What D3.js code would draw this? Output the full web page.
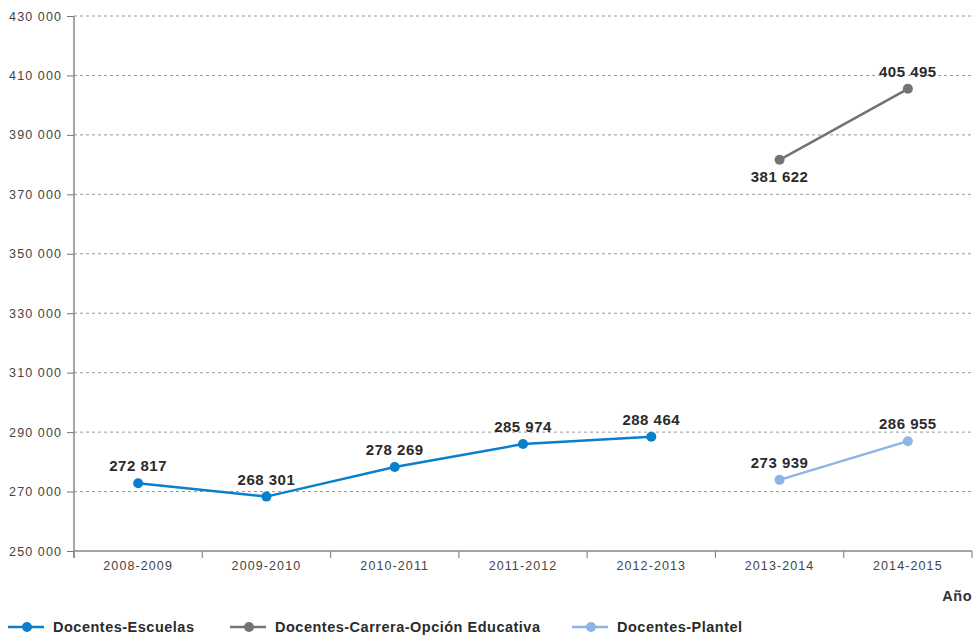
<!DOCTYPE html>
<html><head><meta charset="utf-8">
<script src="https://cdn.jsdelivr.net/npm/d3@7"></script>
<style>body{margin:0;background:#fff;font-family:"Liberation Sans",Arial,sans-serif}</style>
</head><body><svg id="c" width="975" height="638"></svg>
<script>
const years = ["2008-2009","2009-2010","2010-2011","2011-2012","2012-2013","2013-2014","2014-2015"];
const escuelas = [272817, 268301, 278269, 285974, 288464, null, null];
const carrera = [null, null, null, null, null, 381622, 405495];
const plantel = [null, null, null, null, null, 273939, 286955];
const seriesNames = ["Docentes-Escuelas","Docentes-Carrera-Opción Educativa","Docentes-Plantel"];
const yTicks = [250000,270000,290000,310000,330000,350000,370000,390000,410000,430000];

const colors = ["#0a7fcb","#737373","#8db4e5"];
const labelPos = [["up","up","up","up","up",null,null],[null,null,null,null,null,"down","up"],[null,null,null,null,null,"up","up"]];
const svg = d3.select("#c");
const L = 74, R = 972, T = 16, B = 551;
const x = d3.scaleBand().domain(years).range([L, R]);
const y = d3.scaleLinear().domain([250000, 430000]).range([B, T]);
const fmt = v => d3.format(",")(v).replace(/,/g, " ");

// grid
svg.append("g").selectAll("line").data(yTicks.slice(1)).join("line")
  .attr("x1", L).attr("x2", R).attr("y1", d => y(d)).attr("y2", d => y(d))
  .attr("stroke", "#999").attr("stroke-dasharray", "3,3").attr("stroke-width", 1);

// y axis
const ya = svg.append("g").attr("transform", `translate(${L},0)`)
  .call(d3.axisLeft(y).tickValues(yTicks).tickFormat(fmt).tickSize(7).tickPadding(5));
ya.select(".domain").remove();
ya.selectAll(".tick line").attr("stroke", "#777");
ya.selectAll("text").attr("fill", "#444").style("font-size", "12.5px").style("letter-spacing", "1.1px").style("font-family", "Liberation Sans, Arial, sans-serif");
svg.append("line").attr("x1", L).attr("x2", L).attr("y1", T).attr("y2", B + 7).attr("stroke", "#888").attr("stroke-width", 1.5);

// x axis
const xa = svg.append("g").attr("transform", `translate(0,${B})`)
  .call(d3.axisBottom(x).tickSize(0).tickPadding(10));
xa.select(".domain").remove();
xa.selectAll("text").attr("fill", "#444").style("font-size", "12.5px").style("letter-spacing", "1.1px").style("font-family", "Liberation Sans, Arial, sans-serif");
svg.append("line").attr("x1", L).attr("x2", R).attr("y1", B).attr("y2", B).attr("stroke", "#888").attr("stroke-width", 1.5);
const bounds = years.map(d => x(d)).concat([x(years[years.length-1]) + x.bandwidth()]);
svg.append("g").selectAll("line").data(bounds).join("line")
  .attr("x1", d => d).attr("x2", d => d).attr("y1", B).attr("y2", B + 7)
  .attr("stroke", "#888").attr("stroke-width", 1.2);

svg.append("text").attr("x", R).attr("y", 601).attr("text-anchor", "end")
  .attr("font-weight", "bold").attr("font-size", 14.5).style("letter-spacing", "0.5px").attr("fill", "#333").text("Año");

const cx = d => x(d) + x.bandwidth() / 2;
const all = [escuelas, carrera, plantel];
all.forEach((vals, i) => {
  const pts = years.map((yr, j) => ({yr, v: vals[j], pos: labelPos[i][j]})).filter(p => p.v != null);
  svg.append("path").datum(pts)
    .attr("d", d3.line().x(p => cx(p.yr)).y(p => y(p.v)))
    .attr("fill", "none").attr("stroke", colors[i]).attr("stroke-width", 2.5);
  svg.append("g").selectAll("circle").data(pts).join("circle")
    .attr("cx", p => cx(p.yr)).attr("cy", p => y(p.v)).attr("r", 5).attr("fill", colors[i]);
  svg.append("g").selectAll("text").data(pts).join("text")
    .attr("x", p => cx(p.yr)).attr("y", p => y(p.v) + (p.pos === "down" ? 22 : -12))
    .attr("text-anchor", "middle").attr("font-weight", "bold").attr("font-size", 15)
    .style("letter-spacing", "0.5px")
    .attr("fill", "#2b2b2b").text(p => fmt(p.v));
});

// legend
const legX = [8, 230, 572];
seriesNames.forEach((n, i) => {
  const g = svg.append("g").attr("transform", `translate(${legX[i]},627)`);
  g.append("line").attr("x1", 0).attr("x2", 36).attr("y1", 0).attr("y2", 0).attr("stroke", colors[i]).attr("stroke-width", 2.5);
  g.append("circle").attr("cx", 19).attr("cy", 0).attr("r", 5).attr("fill", colors[i]);
  g.append("text").attr("x", 45).attr("y", 5).attr("font-weight", "bold").attr("font-size", 14.5)
    .style("letter-spacing", "0.5px")
    .attr("fill", "#2b2b2b").text(n);
});
</script></body></html>
